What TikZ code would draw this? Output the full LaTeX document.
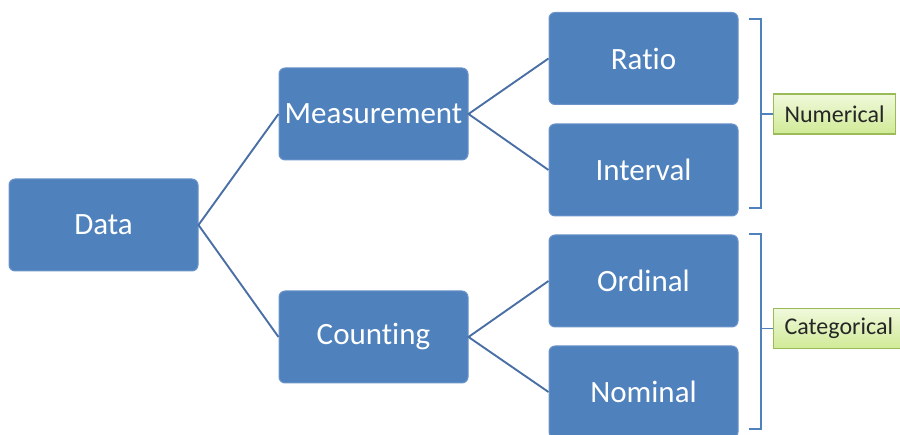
\documentclass[tikz,border=0pt]{standalone}
\usepackage{fontspec}
\setmainfont{Carlito}[Ligatures=NoCommon]
\usepackage{xcolor}
\usepackage{tikz}
\usetikzlibrary{positioning,calc}

\definecolor{boxblue}{RGB}{79,129,189}
\definecolor{boxedge}{RGB}{108,148,203}
\definecolor{linkblue}{RGB}{74,111,165}
\definecolor{tagedge}{RGB}{155,187,89}
\definecolor{tagtop}{RGB}{240,249,220}
\definecolor{tagbottom}{RGB}{208,234,150}

\begin{document}
\begin{tikzpicture}[x=1pt,y=1pt,
    databox/.style={draw=boxedge, line width=1pt, fill=boxblue, rounded corners=6pt,
        minimum width=189pt, minimum height=92pt, text=white,
        font=\fontsize{31}{36}\selectfont},
    tagbox/.style={draw=tagedge, line width=1.2pt, top color=tagtop, bottom color=tagbottom,
        minimum height=40pt, inner xsep=11pt, text=black!85,
        font=\fontsize{24}{28}\selectfont},
    link/.style={draw=linkblue, line width=1.9pt},
    brace/.style={draw=boxblue, line width=1.3pt}]
    \clip (0,0) rectangle (900,435);

    % Tree
    \node[databox] (data) at (103.5,210) {Data};
    \node[databox] (measure) at (373.5,321) {Measurement};
    \node[databox] (count) at (373.5,98) {Counting};
    \node[databox] (ratio) at (643.5,376.5) {Ratio};
    \node[databox] (interval) at (643.5,265) {Interval};
    \node[databox] (ordinal) at (643.5,154) {Ordinal};
    \node[databox] (nominal) at (643.5,43) {Nominal};

    \draw[link] (measure.west) -- (data.east) -- (count.west);
    \draw[link] (ratio.west) -- (measure.east) -- (interval.west);
    \draw[link] (ordinal.west) -- (count.east) -- (nominal.west);

    % Numerical
    \node[tagbox, anchor=west] (numerical) at (773,321) {Numerical};
    \coordinate (numtop) at (761,416);
    \coordinate (numbot) at (761,227);
    \draw[brace] ($(numtop)+(-12,0)$) -- (numtop) -- (numbot) -- ++(-12,0);
    \draw[brace] (numerical.west) -- (numerical.west -| numtop);

    % Categorical
    \node[tagbox, anchor=west] (categorical) at (773,106.5) {Categorical};
    \coordinate (cattop) at (761,201);
    \coordinate (catbot) at (761,6);
    \draw[brace] ($(cattop)+(-12,0)$) -- (cattop) -- (catbot) -- ++(-12,0);
    \draw[brace] (categorical.west) -- (categorical.west -| cattop);
\end{tikzpicture}
\end{document}
